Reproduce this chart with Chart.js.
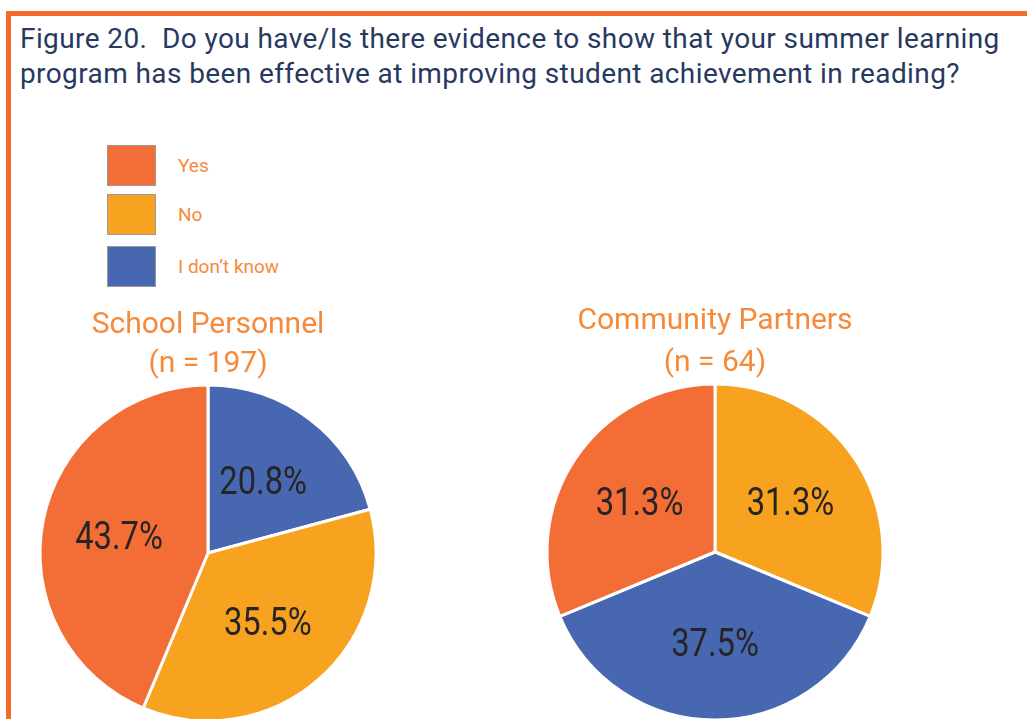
<!DOCTYPE html>
<html>
<head>
<meta charset="utf-8">
<script src="https://cdn.jsdelivr.net/npm/chart.js@4.4.1/dist/chart.umd.min.js"></script>
<style>
  html, body { margin: 0; padding: 0; background: #ffffff; width: 1027px; height: 719px; overflow: hidden; }
  #page { position: relative; width: 1027px; height: 719px; overflow: hidden; }
  #topRule { position: absolute; left: 6px; top: 11px; width: 1021px; height: 5px; background: #F26B2B; }
  #leftRule { position: absolute; left: 6px; top: 11px; width: 5px; height: 708px; background: #F26B2B; }
  #title { position: absolute; left: 20px; top: 21px; font-family: Roboto, sans-serif;
           font-size: 28px; line-height: 35px; letter-spacing: 0.4px; color: #28395F; white-space: pre; }
  .legRow { position: absolute; left: 107px; height: 41px; display: flex; align-items: center; }
  .legBox { width: 47px; height: 39px; border: 1px solid #9a9a9a; box-sizing: content-box; }
  .legText { margin-left: 22px; font-family: Roboto, sans-serif; font-size: 19px; color: #F58A3A; }
  canvas { position: absolute; }
</style>
</head>
<body>
<div id="page">
  <div id="topRule"></div>
  <div id="leftRule"></div>
  <div id="title"></div>
  <div id="legend"></div>
  <div id="wrapL" style="position:absolute; left:12px; top:290px; width:392px; height:431px;"><canvas id="pieL"></canvas></div>
  <div id="wrapR" style="position:absolute; left:520px; top:290px; width:390px; height:430px;"><canvas id="pieR"></canvas></div>
</div>
<script>
// ---- data ----
const titleLines = [
  "Figure 20.  Do you have/Is there evidence to show that your summer learning",
  "program has been effective at improving student achievement in reading?"
];
const categories = ["Yes", "No", "I don\u2019t know"];
const categoryColors = ["#F36D36", "#F7A31F", "#4767B1"];
const schoolTitle = ["School Personnel", "(n = 197)"];
const schoolValues = [43.7, 35.5, 20.8];
const schoolOrder = [2, 1, 0];        // clockwise from 12 o'clock
const communityTitle = ["Community Partners", "(n = 64)"];
const communityValues = [31.3, 31.3, 37.5];
const communityOrder = [1, 2, 0];     // clockwise from 12 o'clock

// ---- title & legend ----
const titleEl = document.getElementById('title');
titleEl.textContent = titleLines.join("\n");
const legendTops = [145, 194, 246];
const legend = document.getElementById('legend');
categories.forEach((c, i) => {
  const row = document.createElement('div');
  row.className = 'legRow';
  row.style.top = legendTops[i] + 'px';
  const box = document.createElement('div');
  box.className = 'legBox';
  box.style.background = categoryColors[i];
  const t = document.createElement('div');
  t.className = 'legText';
  t.textContent = c;
  row.appendChild(box); row.appendChild(t);
  legend.appendChild(row);
});

// ---- percentage labels ----
const pctLabels = {
  id: 'pctLabels',
  afterDatasetsDraw(chart) {
    const ctx = chart.ctx;
    const meta = chart.getDatasetMeta(0);
    const data = chart.data.datasets[0].data;
    meta.data.forEach((arc, i) => {
      const p = arc.getProps(['x', 'y', 'startAngle', 'endAngle', 'outerRadius'], true);
      const mid = (p.startAngle + p.endAngle) / 2;
      const r = p.outerRadius * 0.54;
      ctx.save();
      ctx.translate(p.x + Math.cos(mid) * r, p.y + Math.sin(mid) * r + 4);
      ctx.scale(0.86, 1);
      ctx.font = '38px Roboto, sans-serif';
      ctx.fillStyle = '#262424';
      ctx.textAlign = 'center';
      ctx.textBaseline = 'middle';
      ctx.fillText(data[i].toFixed(1) + '%', 0, 0);
      ctx.restore();
    });
  }
};

function makePie(id, titleText, values, order, pad, lh) {
  return new Chart(document.getElementById(id), {
    type: 'pie',
    data: {
      labels: order.map(i => categories[i]),
      datasets: [{
        data: order.map(i => values[i]),
        backgroundColor: order.map(i => categoryColors[i]),
        borderColor: '#ffffff',
        borderWidth: 3,
        radius: 168
      }]
    },
    options: {
      responsive: true,
      maintainAspectRatio: false,
      animation: false,
      rotation: 0,
      layout: { padding: 0 },
      plugins: {
        legend: { display: false },
        tooltip: { enabled: false },
        title: {
          display: true,
          text: titleText,
          color: '#F58A3A',
          font: { family: 'Roboto, sans-serif', size: 30, weight: 'normal', lineHeight: lh },
          padding: pad
        }
      }
    },
    plugins: [pctLabels]
  });
}

makePie('pieL', schoolTitle, schoolValues, schoolOrder, { top: 16, bottom: 1 }, 1.3);
makePie('pieR', communityTitle, communityValues, communityOrder, { top: 10, bottom: 0 }, 1.4);
</script>
</body>
</html>
